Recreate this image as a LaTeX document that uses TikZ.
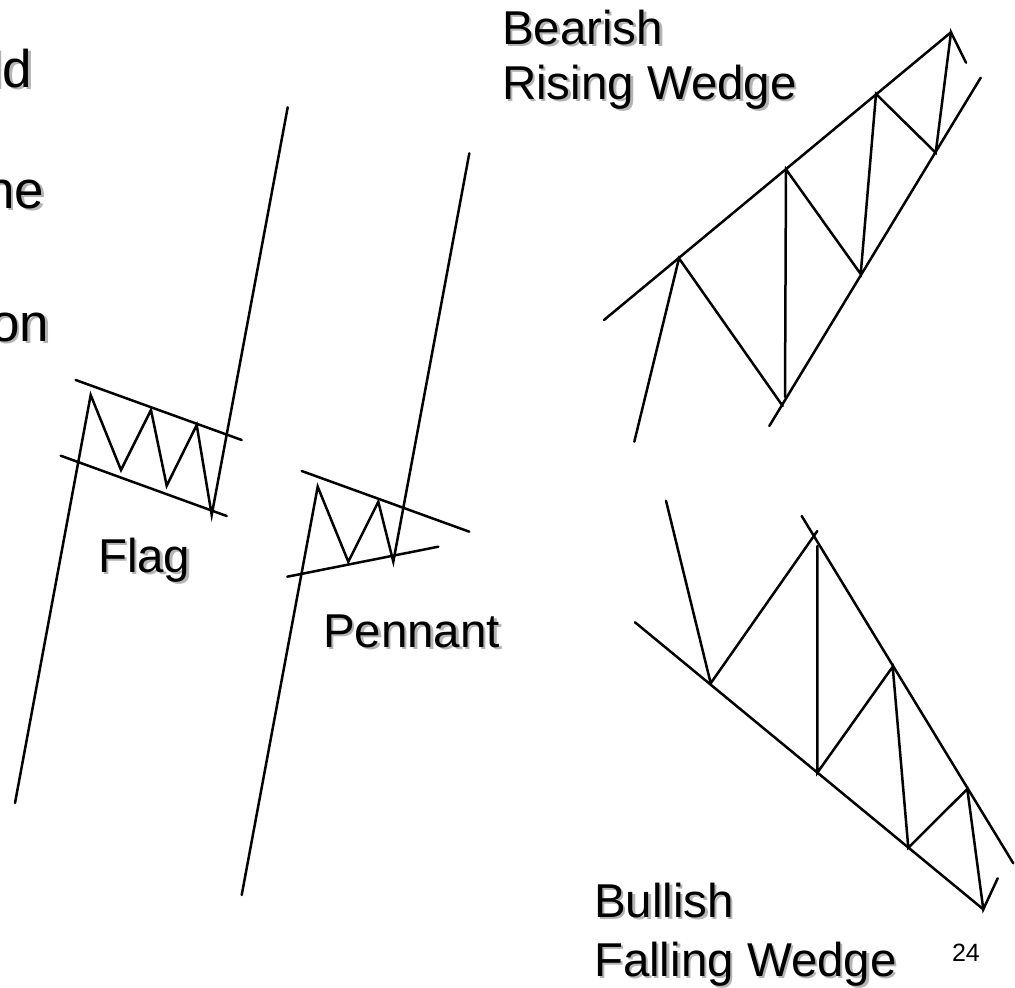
\documentclass[tikz,border=0pt]{standalone}
\usepackage{fontspec}
\setmainfont{Liberation Sans}
\definecolor{shadowgray}{HTML}{B4B4B4}
\tikzset{
  trend/.style={line width=2.5pt, line cap=round, line join=miter, black},
  lbl/.style={inner sep=0pt, outer sep=0pt, font=\fontsize{47.5}{55}\selectfont},
  bigtxt/.style={inner sep=0pt, outer sep=0pt, font=\fontsize{53}{60}\selectfont},
  pagenum/.style={inner sep=0pt, outer sep=0pt, font=\fontsize{25}{28}\selectfont}
}
\newcommand\shlabel[5]{%
  \node[#5, text=shadowgray, anchor=#3] (#1s) at ([shift={(2.5,2.5)}]#2) {#4};
  \node[#5, anchor=#3] (#1) at (#2) {#4};}
\begin{document}
\begin{tikzpicture}[x=1pt,y=-1pt]
\useasboundingbox (0,0) rectangle (1015,988);

% cut-off bullet text on the left
\shlabel{tA}{32,87}{base east}{ld}{bigtxt}
\shlabel{tB}{44,208}{base east}{ne}{bigtxt}
\shlabel{tC}{49,341}{base east}{on}{bigtxt}

% ---------- Flag ----------
\coordinate (f0) at (15,803);
\coordinate (f1) at (90.7,395);
\coordinate (f2) at (121,470);
\coordinate (f3) at (151,410);
\coordinate (f4) at (166.7,485.7);
\coordinate (f5) at (196.7,425);
\coordinate (f6) at (211.7,515);
\coordinate (f7) at (287.7,107.3);
\draw[trend] (f0) -- (f1) -- (f2) -- (f3) -- (f4) -- (f5) -- (f6) -- (f7);
\coordinate (fu1) at (75.7,380);
\coordinate (fu2) at (241.7,440);
\coordinate (fl1) at (60.7,455.7);
\coordinate (fl2) at (226.7,516);
\draw[trend] (fu1) -- (fu2);
\draw[trend] (fl1) -- (fl2);
\shlabel{flag}{98,572}{base west}{Flag}{lbl}

% ---------- Pennant ----------
\coordinate (p0) at (241.7,895);
\coordinate (p1) at (317.7,486.7);
\coordinate (p2) at (348.3,561.7);
\coordinate (p3) at (378.3,501.7);
\coordinate (p4) at (393.3,561.7);
\coordinate (p5) at (469.3,153.3);
\draw[trend] (p0) -- (p1) -- (p2) -- (p3) -- (p4) -- (p5);
\coordinate (pu1) at (301.7,471);
\coordinate (pu2) at (469.3,531.7);
\coordinate (pl1) at (287.3,576.7);
\coordinate (pl2) at (438.3,546.7);
\draw[trend] (pu1) -- (pu2);
\draw[trend] (pl1) -- (pl2);
\shlabel{pennant}{323,647}{base west}{Pennant}{lbl}

% ---------- Bearish rising wedge ----------
\coordinate (ru1) at (604,320);
\coordinate (ru2) at (951,32.3);
\coordinate (rl1) at (769.3,426);
\coordinate (rl2) at (980.7,77.7);
\draw[trend] (ru1) -- (ru2);
\draw[trend] (rl1) -- (rl2);
\coordinate (r0) at (634.3,441.7);
\coordinate (r1) at (679,258.3);
\coordinate (r2) at (782.7,406);
\coordinate (r2b) at (785,397);
\coordinate (r3) at (786,169.3);
\coordinate (r4) at (860.7,274);
\coordinate (r5) at (876,94);
\coordinate (r6) at (935.7,152.7);
\coordinate (r7) at (951,32.3);
\coordinate (r8) at (966,62.7);
\draw[trend] (r0) -- (r1) -- (r2);
\draw[trend] (r2b) -- (r3) -- (r4) -- (r5) -- (r6) -- (r7) -- (r8);
\shlabel{bear1}{502,44}{base west}{Bearish}{lbl}
\shlabel{bear2}{502,99}{base west}{Rising Wedge}{lbl}

% ---------- Bullish falling wedge ----------
\coordinate (wl1) at (635,622.3);
\coordinate (wl2) at (983.3,909.3);
\coordinate (wu1) at (801.7,516);
\coordinate (wu2) at (1013.3,863.3);
\draw[trend] (wl1) -- (wl2);
\draw[trend] (wu1) -- (wu2);
\coordinate (w0) at (666,500.7);
\coordinate (w1) at (710.7,683.3);
\coordinate (w2) at (817.3,531);
\coordinate (w3a) at (817.3,546);
\coordinate (w3) at (817.3,772.7);
\coordinate (w4) at (892.7,666.7);
\coordinate (w5) at (908.3,847.7);
\coordinate (w6) at (967.3,789);
\coordinate (w7) at (983.3,909.3);
\coordinate (w8) at (997.7,878.3);
\draw[trend] (w0) -- (w1) -- (w2);
\draw[trend] (w3a) -- (w3) -- (w4) -- (w5) -- (w6) -- (w7) -- (w8);
\shlabel{bull1}{594,917}{base west}{Bullish}{lbl}
\shlabel{bull2}{594,976}{base west}{Falling Wedge}{lbl}

\node[pagenum, anchor=base west] (num) at (952,961) {24};
\end{tikzpicture}
\end{document}
